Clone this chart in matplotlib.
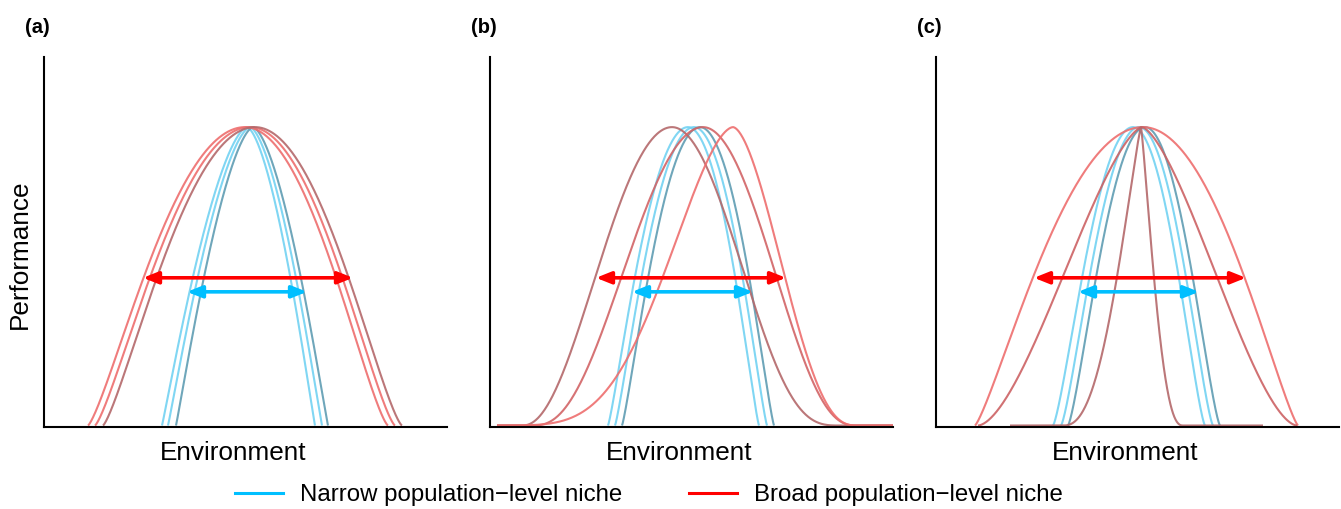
import numpy as np
import matplotlib.pyplot as plt
from matplotlib.lines import Line2D

plt.rcParams['font.family'] = ['Liberation Sans', 'DejaVu Sans']

# each niche curve: lower limit, optimum, upper limit, shape p, left q, right q, drawn from, drawn to
a_narrow = [[11.8, 20.3, 27.1, 1.6, 1.05, 1.05, 11.8, 27.1],
            [12.4, 20.6, 27.8, 1.6, 1.05, 1.05, 12.4, 27.8],
            [13.2, 20.9, 28.4, 1.6, 1.05, 1.05, 13.2, 28.4]]
a_broad = [[4.4, 20.1, 34.4, 2.0, 1.3, 1.35, 4.4, 34.4],
           [5.1, 20.6, 35.1, 2.0, 1.3, 1.35, 5.1, 35.1],
           [5.9, 21.1, 35.8, 2.0, 1.3, 1.35, 5.9, 35.8]]

b_narrow = [[11.8, 19.8, 26.9, 2.0, 1.2, 1.2, 11.8, 26.9],
            [12.5, 20.4, 27.7, 2.0, 1.2, 1.2, 12.5, 27.7],
            [13.2, 21.0, 28.4, 2.0, 1.2, 1.2, 13.2, 28.4]]
b_broad = [[3.2, 18.2, 35.0, 2.0, 2.3, 3.3, 0.7, 40.3],
           [4.2, 21.3, 36.7, 2.0, 2.7, 2.7, 0.7, 40.3],
           [-1.0, 24.3, 36.7, 1.7, 5.8, 2.7, 0.7, 40.3]]

c_narrow = [[11.7, 19.7, 26.9, 2.0, 1.35, 1.35, 11.7, 26.9],
            [12.5, 20.3, 27.7, 2.0, 1.35, 1.35, 12.5, 27.7],
            [13.2, 20.9, 28.4, 2.0, 1.35, 1.35, 13.2, 28.4]]
c_broad = [[3.9, 20.7, 36.2, 2.0, 1.25, 1.25, 3.9, 36.2],
           [4.2, 20.6, 36.1, 1.5, 1.7, 1.7, 4.2, 36.1],
           [12.7, 20.5, 24.7, 1.2, 2.5, 2.5, 7.4, 32.7]]

# niche breadth arrows (start, end) and their heights
a_arrows = [(9.9, 30.9), (14.3, 26.3)]
b_arrows = [(10.6, 29.6), (14.2, 26.3)]
c_arrows = [(9.8, 31.0), (14.2, 26.3)]
broad_y = 0.495
narrow_y = 0.448

panel_labels = ['(a)', '(b)', '(c)']

narrow_cols = ['#72D2F2', '#72D2F2', '#5F9DB3']
broad_cols = {'(a)': ['#EE6E6E', '#EE6E6E', '#B4686A'],
              '(b)': ['#B4686A', '#D26466', '#EE6E6E'],
              '(c)': ['#EE6E6E', '#CC6264', '#B4686A']}


def perf(x, lo, opt, hi, p, ql, qr):
    u = np.where(x < opt, (opt - x) / (opt - lo), (x - opt) / (hi - opt))
    base = np.clip(1 - np.abs(u) ** p, 0, None)
    q = np.where(x < opt, ql, qr)
    return base ** q


fig = plt.figure(figsize=(13.41, 5.09), dpi=100)
lefts = [44, 490, 936]
panels = [(a_narrow, a_broad, a_arrows), (b_narrow, b_broad, b_arrows), (c_narrow, c_broad, c_arrows)]

for lab, left, (narrow, broad, arrows) in zip(panel_labels, lefts, panels):
    ax = fig.add_axes([left / 1341, 82 / 509, 403 / 1341, 370 / 509])
    for row, col in zip(narrow, narrow_cols):
        xs = np.linspace(row[6], row[7], 400)
        ax.plot(xs, perf(xs, *row[:6]), color=col, lw=1.5, alpha=0.9, solid_capstyle='butt')
    for row, col in zip(broad, broad_cols[lab]):
        xs = np.linspace(row[6], row[7], 600)
        ax.plot(xs, perf(xs, *row[:6]), color=col, lw=1.5, alpha=0.9, solid_capstyle='butt')

    for (x0, x1), y, col in zip(arrows, [broad_y, narrow_y], ['#FF0000', '#00BFFF']):
        ax.annotate('', xy=(x1, y), xytext=(x0, y),
                    arrowprops=dict(arrowstyle='<|-|>,head_length=0.6,head_width=0.24',
                                    color=col, lw=2.6, shrinkA=0, shrinkB=0, mutation_scale=15))

    ax.set_xlim(0, 40.3)
    ax.set_ylim(-0.005, 1.235)
    for s in ['top', 'right']:
        ax.spines[s].set_visible(False)
    for s in ['left', 'bottom']:
        ax.spines[s].set_linewidth(1.5)
    ax.set_xticks([])
    ax.set_yticks([])
    ax.text(0.469, -0.089, 'Environment', transform=ax.transAxes, ha='center', va='baseline', fontsize=18.8)
    fig.text((left - 19) / 1341, 0.935, lab, fontweight='bold', fontsize=14.5, va='baseline')

fig.text(0.0149, 0.501, 'Performance', rotation=90, ha='center', va='center', fontsize=18.8)

handles = [Line2D([], [], color='#00BFFF', lw=2.2), Line2D([], [], color='#FF0000', lw=2.2)]
fig.legend(handles, ['Narrow population\u2212level niche', 'Broad population\u2212level niche'],
           loc='center', bbox_to_anchor=(0.4840, 0.0275), ncol=2, frameon=False, fontsize=17.3,
           handlelength=2.0, handletextpad=0.71, columnspacing=2.75, borderpad=0, borderaxespad=0)

fig.savefig('out.png', dpi=100)
